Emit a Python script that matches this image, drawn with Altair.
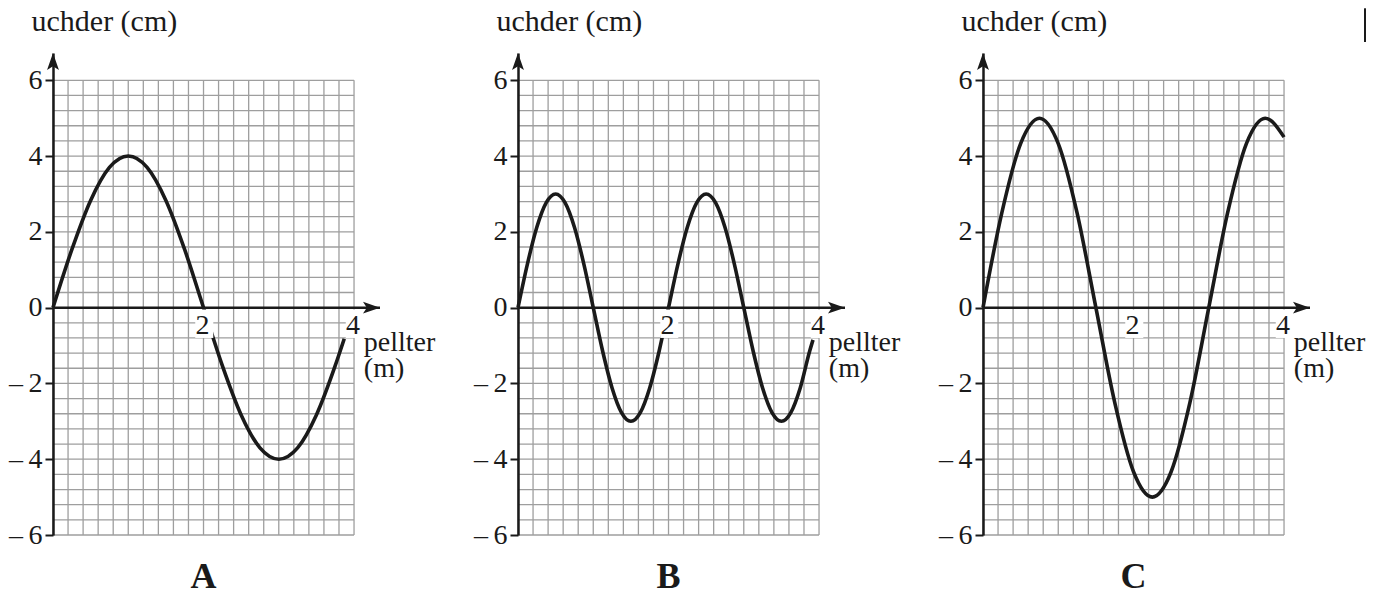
import altair as alt
import pandas as pd

FONT = "Liberation Serif"
GRID = "#9e9e9e"
INK = "#1a1a1a"

# ---- data ----
panel_letters = ["A", "B", "C"]

a_x = [0, 0.25, 0.5, 0.75, 1.0, 1.25, 1.5, 1.75, 2.0, 2.25, 2.5, 2.75, 3.0, 3.25, 3.5, 3.75, 3.87]
a_y = [0, 1.53, 2.83, 3.70, 4.0, 3.70, 2.83, 1.53, 0, -1.53, -2.83, -3.70, -4.0, -3.70, -2.83, -1.53, -0.82]

b_x = [0, 0.125, 0.25, 0.375, 0.5, 0.625, 0.75, 0.875, 1.0, 1.125, 1.25, 1.375, 1.5, 1.625, 1.75, 1.875,
       2.0, 2.125, 2.25, 2.375, 2.5, 2.625, 2.75, 2.875, 3.0, 3.125, 3.25, 3.375, 3.5, 3.625, 3.75, 3.875, 3.92]
b_y = [0, 1.15, 2.12, 2.77, 3.0, 2.77, 2.12, 1.15, 0, -1.15, -2.12, -2.77, -3.0, -2.77, -2.12, -1.15,
       0, 1.15, 2.12, 2.77, 3.0, 2.77, 2.12, 1.15, 0, -1.15, -2.12, -2.77, -3.0, -2.77, -2.12, -1.15, -0.85]

c_x = [0, 0.25, 0.5, 0.75, 1.0, 1.25, 1.5, 1.75, 2.0, 2.25, 2.5, 2.75, 3.0, 3.25, 3.5, 3.75, 4.0]
c_y = [0, 2.5, 4.33, 5.0, 4.33, 2.5, 0, -2.5, -4.33, -5.0, -4.33, -2.5, 0, 2.5, 4.33, 5.0, 4.5]

y_ticks = [-6, -4, -2, 0, 2, 4, 6]
x_tick_labels = [2, 4]
y_title = "uchder (cm)"
x_title = ["pellter", "(m)"]

# grid: 20 columns of 0.2 m, 30 rows of 0.4 cm
grid_x = [round(i * 0.2, 3) for i in range(21)]
grid_y = [round(-6 + i * 0.4, 3) for i in range(31)]

X_MAX = 4.345
Y_MIN, Y_MAX = -6.0, 6.72
W, H = 327, 482

xs = alt.Scale(domain=[0, X_MAX], nice=False, zero=False)
ys = alt.Scale(domain=[Y_MIN, Y_MAX], nice=False, zero=False)

yaxis = alt.Axis(
    values=y_ticks, grid=False,
    labelExpr="datum.value < 0 ? '\u2013\u2009' + abs(datum.value) : datum.label",
    labelFont=FONT, labelFontSize=28, labelColor=INK, labelPadding=3,
    tickSize=8, tickWidth=2, tickColor=INK,
    domainColor=INK, domainWidth=2.5, zindex=1,
    title=y_title, titleFont=FONT, titleFontSize=30, titleFontWeight="normal",
    titleColor=INK, titleAngle=0, titleAlign="left", titleBaseline="alphabetic",
    titleX=-22, titleY=-23,
)


def X(f):
    return alt.X(f, type="quantitative", scale=xs, axis=None)


def Y(f):
    return alt.Y(f, type="quantitative", scale=ys, axis=yaxis)


UP = "M0,0L0.7,2L0,1.55L-0.7,2Z"
RIGHT = "M0,0L-2,-0.7L-1.55,0L-2,0.7Z"


def panel(xv, yv, letter, bar=False):
    vg = alt.Chart(pd.DataFrame({"gx": grid_x, "y1": Y_MIN, "y2": 6.0})).mark_rule(
        color=GRID, strokeWidth=1.3).encode(x=X("gx"), y=Y("y1"), y2="y2")
    hg = alt.Chart(pd.DataFrame({"gy": grid_y, "x1": 0.0, "x2": 4.0})).mark_rule(
        color=GRID, strokeWidth=1.3).encode(y=Y("gy"), x=X("x1"), x2="x2")
    curve = alt.Chart(pd.DataFrame({"x": xv, "y": yv})).mark_line(
        interpolate="monotone", color=INK, strokeWidth=3.6).encode(x=X("x"), y=Y("y"))
    tdf = pd.DataFrame({"t": x_tick_labels})
    tdf["bx1"] = tdf["t"] - 0.11
    tdf["bx2"] = tdf["t"] + 0.13
    tdf["by1"] = -0.05
    tdf["by2"] = -0.8
    tdf["zero"] = 0.0
    tdf["lab"] = tdf["t"].astype(str)
    boxes = alt.Chart(tdf).mark_rect(color="white").encode(
        x=X("bx1"), x2="bx2", y=Y("by1"), y2="by2")
    labels = alt.Chart(tdf).mark_text(
        font=FONT, fontSize=28, color=INK, baseline="alphabetic", align="center", dy=26, dx=-1
    ).encode(x=X("t"), y=Y("zero"), text="lab:N")
    xaxis = alt.Chart(pd.DataFrame({"x1": [0.0], "x2": [X_MAX], "y": [0.0]})).mark_rule(
        color=INK, strokeWidth=2.5).encode(x=X("x1"), x2="x2", y=Y("y"))
    up = alt.Chart(pd.DataFrame({"x": [0.0], "y": [Y_MAX]})).mark_point(
        shape=UP, filled=True, size=289, color=INK, opacity=1, strokeWidth=0).encode(x=X("x"), y=Y("y"))
    right = alt.Chart(pd.DataFrame({"x": [X_MAX], "y": [0.0]})).mark_point(
        shape=RIGHT, filled=True, size=289, color=INK, opacity=1, strokeWidth=0).encode(x=X("x"), y=Y("y"))
    xt = alt.Chart(pd.DataFrame({"x": [4.13], "y": [0.0]})).mark_text(
        text=x_title, font=FONT, fontSize=28, color=INK, align="left", baseline="alphabetic",
        dy=43, lineHeight=26
    ).encode(x=X("x"), y=Y("y"))
    let = alt.Chart(pd.DataFrame({"x": [2.0], "y": [-7.11], "s": [letter]})).mark_text(
        font=FONT, fontSize=36, fontWeight="bold", color=INK, align="center", baseline="middle"
    ).encode(x=X("x"), y=Y("y"), text="s:N")
    layers = [vg, hg, curve, boxes, xaxis, up, right, labels, xt, let]
    if bar:
        b = alt.Chart(pd.DataFrame({"x": [5.076], "y1": [7.9], "y2": [7.01]})).mark_rule(
            color=INK, strokeWidth=2).encode(x=X("x"), y=Y("y1"), y2="y2")
        layers.append(b)
    return alt.layer(*layers).properties(width=W, height=H)


pA = panel(a_x, a_y, panel_letters[0])
pB = panel(b_x, b_y, panel_letters[1])
pC = panel(c_x, c_y, panel_letters[2], bar=True)

chart = alt.hconcat(pA, pB, pC, spacing=138, bounds="flush").properties(
    padding={"left": 0, "top": -2, "right": 4, "bottom": 0}
).configure_view(stroke=None)

chart.save("out.html", embed_options={"renderer": "svg", "actions": False})
